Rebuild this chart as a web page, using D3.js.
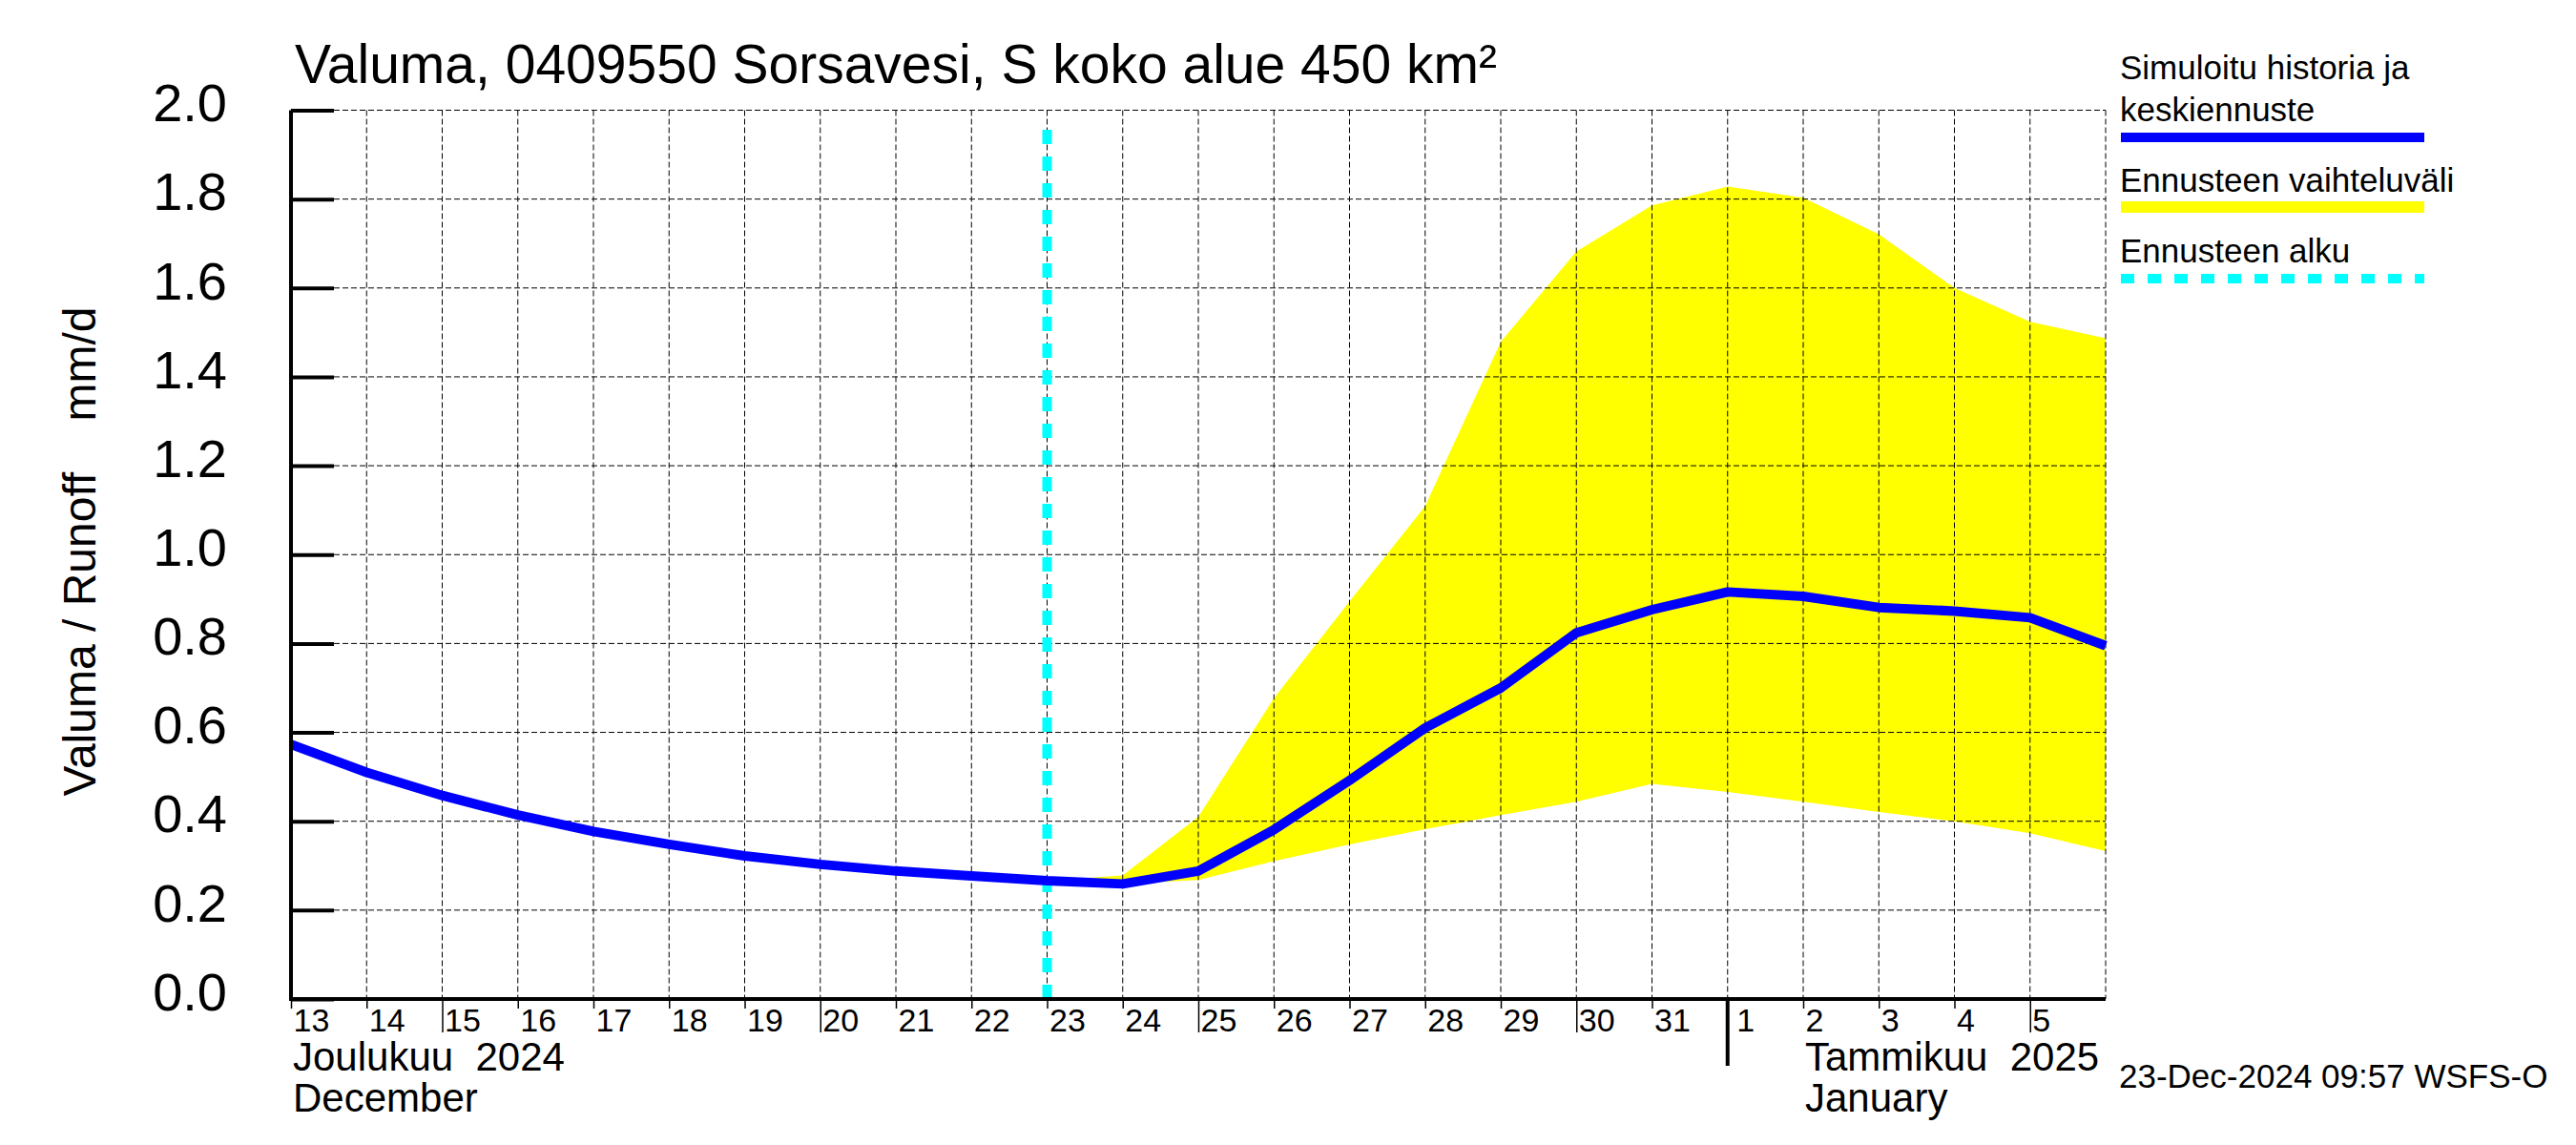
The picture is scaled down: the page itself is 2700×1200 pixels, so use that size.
<!DOCTYPE html>
<html lang="fi">
<head>
<meta charset="UTF-8">
<title>Valuma</title>
<style>
  body { margin: 0; background: #fff; }
  text { font-family: "Liberation Sans", Arial, Helvetica, sans-serif; fill: #000; }
  .pre { white-space: pre; }
</style>
</head>
<body>
<svg id="chart" width="2700" height="1200"></svg>
<script src="https://cdn.jsdelivr.net/npm/d3@7/dist/d3.min.js"></script>
<script>
// days on the x axis (00:00 UTC)
var days = ["2024-12-13","2024-12-14","2024-12-15","2024-12-16","2024-12-17","2024-12-18",
  "2024-12-19","2024-12-20","2024-12-21","2024-12-22","2024-12-23","2024-12-24","2024-12-25",
  "2024-12-26","2024-12-27","2024-12-28","2024-12-29","2024-12-30","2024-12-31","2025-01-01",
  "2025-01-02","2025-01-03","2025-01-04","2025-01-05","2025-01-06"];

// simulated history + median forecast, mm/d
var runoff = [0.573,0.51,0.458,0.414,0.377,0.348,0.322,0.303,0.288,0.277,0.266,0.259,0.288,
  0.381,0.492,0.61,0.70,0.824,0.876,0.916,0.906,0.881,0.873,0.858,0.795];

// forecast range
var bandDays = ["2024-12-23","2024-12-24","2024-12-25","2024-12-26","2024-12-27","2024-12-28",
  "2024-12-29","2024-12-30","2024-12-31","2025-01-01","2025-01-02","2025-01-03","2025-01-04",
  "2025-01-05","2025-01-06"];
var bandUpper = [0.266,0.278,0.41,0.677,0.895,1.109,1.479,1.682,1.786,1.828,1.803,1.721,1.600,1.524,1.487];
var bandLower = [0.266,0.259,0.268,0.31,0.348,0.382,0.414,0.444,0.484,0.466,0.444,0.421,0.400,0.373,0.333];

var forecastStart = "2024-12-23";
var yTicks = [0,0.2,0.4,0.6,0.8,1.0,1.2,1.4,1.6,1.8,2.0];

var monthLabels = [
  {at: "2024-12-13", lines: ["Joulukuu  2024", "December"]},
  {at: "2025-01-02", lines: ["Tammikuu  2025", "January"]}
];
var monthStart = "2025-01-01";

var titleText = "Valuma, 0409550 Sorsavesi, S koko alue 450 km\u00b2";
var yLabel = "Valuma / Runoff    mm/d";
var stamp = "23-Dec-2024 09:57 WSFS-O";

var legendItems = [
  {lines: ["Simuloitu historia ja", "keskiennuste"], color: "#0000ff", width: 10, dash: null},
  {lines: ["Ennusteen vaihteluväli"], color: "#ffff00", width: 12, dash: null},
  {lines: ["Ennusteen alku"], color: "#00ffff", width: 10, dash: "14,14"}
];

var parse = d3.utcParse("%Y-%m-%d");
var pLeft = 305, pRight = 2207, pTop = 115.5, pBottom = 1047;

var svg = d3.select("#chart");

var x = d3.scaleUtc()
  .domain([parse(days[0]), parse(days[days.length - 1])])
  .range([pLeft, pRight]);
var y = d3.scaleLinear().domain([0, 2]).range([pBottom, pTop]);

// yellow band
var area = d3.area()
  .x(function(d, i){ return x(parse(bandDays[i])); })
  .y0(function(d, i){ return y(bandLower[i]); })
  .y1(function(d, i){ return y(bandUpper[i]); });
svg.append("path").datum(bandUpper).attr("d", area).attr("fill", "#ffff00");

// grid
var grid = svg.append("g").attr("stroke", "#000").attr("stroke-width", 1).attr("stroke-dasharray", "6,3");
grid.selectAll(".gx").data(days.slice(1)).enter().append("line")
  .attr("x1", function(d){ return x(parse(d)); }).attr("x2", function(d){ return x(parse(d)); })
  .attr("y1", pTop).attr("y2", pBottom);
grid.selectAll(".gy").data(yTicks.slice(1)).enter().append("line")
  .attr("x1", pLeft).attr("x2", pRight)
  .attr("y1", function(d){ return y(d); }).attr("y2", function(d){ return y(d); });

// forecast start line
var xs = x(parse(forecastStart));
svg.append("line")
  .attr("x1", xs).attr("x2", xs).attr("y1", pBottom).attr("y2", pTop + 8)
  .attr("stroke", "#00ffff").attr("stroke-width", 10).attr("stroke-dasharray", "15,13");

// runoff line
var line = d3.line()
  .x(function(d, i){ return x(parse(days[i])); })
  .y(function(d){ return y(d); });
svg.append("path").datum(runoff).attr("d", line)
  .attr("fill", "none").attr("stroke", "#0000ff").attr("stroke-width", 10).attr("stroke-linejoin", "round");

// y axis
var yAxis = svg.append("g").attr("transform", "translate(" + pLeft + ",0)")
  .call(d3.axisLeft(y).tickValues(yTicks).tickFormat(d3.format(".1f")).tickSize(-45).tickPadding(67));
yAxis.select(".domain").remove();
yAxis.selectAll(".tick line").attr("stroke", "#000").attr("stroke-width", 4);
yAxis.selectAll(".tick text").attr("font-size", 56).attr("dy", "0.2em")
  .style("font-family", "'Liberation Sans', Arial, sans-serif");
svg.append("line").attr("x1", pLeft).attr("x2", pLeft).attr("y1", pTop).attr("y2", pBottom + 2)
  .attr("stroke", "#000").attr("stroke-width", 4);

// x axis
var tickDays = days.slice(0, days.length - 1).map(parse);
var xAxis = svg.append("g").attr("transform", "translate(0," + pBottom + ")")
  .call(d3.axisBottom(x).tickValues(tickDays).tickFormat(d3.utcFormat("%-d")).tickSize(10));
xAxis.select(".domain").remove();
xAxis.selectAll(".tick line").attr("stroke", "#000").attr("stroke-width", 1.5)
  .attr("y2", function(d){ return d.getUTCDate() % 5 === 0 ? 35 : 10; });
xAxis.selectAll(".tick text")
  .attr("font-size", 34).attr("text-anchor", "start").attr("y", 34).attr("dy", null)
  .attr("x", function(d){ return d.getUTCDate() === 1 ? 9 : 2; })
  .style("font-family", "'Liberation Sans', Arial, sans-serif");
svg.append("line").attr("x1", pLeft - 2).attr("x2", pRight).attr("y1", pBottom).attr("y2", pBottom)
  .attr("stroke", "#000").attr("stroke-width", 4);

// month boundary tick
var xm = x(parse(monthStart));
svg.append("line").attr("x1", xm).attr("x2", xm).attr("y1", pBottom).attr("y2", 1117)
  .attr("stroke", "#000").attr("stroke-width", 4);

// month names
monthLabels.forEach(function(m){
  m.lines.forEach(function(t, i){
    svg.append("text").attr("class", "pre")
      .attr("x", x(parse(m.at)) + 2).attr("y", 1122 + i * 43)
      .attr("font-size", 42).text(t);
  });
});

// title
svg.append("text").attr("x", 309).attr("y", 87).attr("font-size", 57).text(titleText);

// y label
svg.append("text").attr("class", "pre")
  .attr("transform", "translate(100,578) rotate(-90)")
  .attr("text-anchor", "middle").attr("font-size", 48).text(yLabel);

// legend
var ly = [83, 201, 275], lineY = [144, 217, 292];
legendItems.forEach(function(it, k){
  it.lines.forEach(function(t, i){
    svg.append("text").attr("x", 2222).attr("y", ly[k] + i * 44).attr("font-size", 35).text(t);
  });
  svg.append("line").attr("x1", 2223).attr("x2", 2541).attr("y1", lineY[k]).attr("y2", lineY[k])
    .attr("stroke", it.color).attr("stroke-width", it.width)
    .attr("stroke-dasharray", it.dash);
});

// time stamp
svg.append("text").attr("x", 2221).attr("y", 1140).attr("font-size", 35).text(stamp);
</script>
</body>
</html>
